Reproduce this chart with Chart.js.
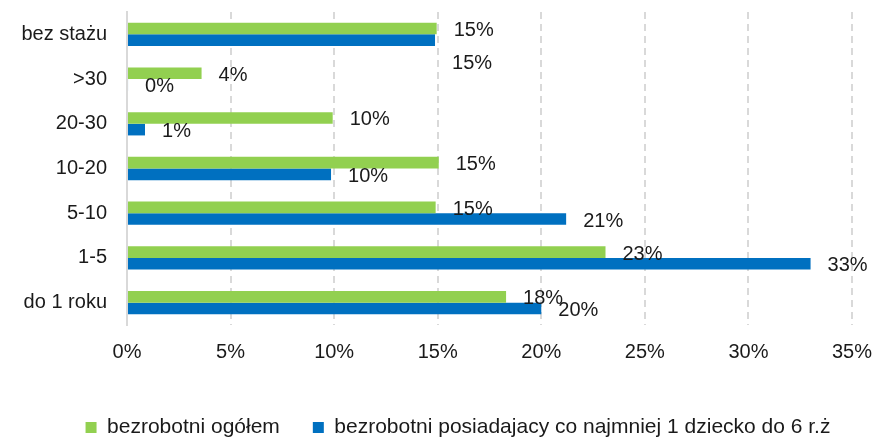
<!DOCTYPE html>
<html>
<head>
<meta charset="utf-8">
<script src="https://cdn.jsdelivr.net/npm/chart.js@4.4.1/dist/chart.umd.min.js"></script>
<style>
  html, body { margin: 0; padding: 0; background: #fff; }
  #wrap { width: 877px; height: 438px; }
</style>
</head>
<body>
<div id="wrap"><canvas id="canvas"></canvas></div>
<script>
// categories, top to bottom
const categories = ["bez stażu", ">30", "20-30", "10-20", "5-10", "1-5", "do 1 roku"]
// series values in percent
const ogolem = [14.95, 3.6, 9.93, 15.05, 14.9, 23.1, 18.3]
const zDzieckiem = [14.87, 0.05, 0.87, 9.85, 21.2, 33.0, 20.0]
// printed labels
const ogolemLabels = ["15%", "4%", "10%", "15%", "15%", "23%", "18%"]
const zDzieckiemLabels = ["15%", "0%", "1%", "10%", "21%", "33%", "20%"]
const xTicks = [0, 5, 10, 15, 20, 25, 30, 35]

const FONT = "'Liberation Sans', Arial, sans-serif"

// draws the value labels to the right of each bar
const barLabels = {
    id: "barLabels",
    afterUpdate(chart, args, opts) {
        // legend sits a bit right of centre in the original
        const lg = chart.legend
        if (lg) {
            lg.left += opts.legendShift[0]
            lg.right += opts.legendShift[0]
            lg.top += opts.legendShift[1]
            lg.bottom += opts.legendShift[1]
        }
    },
    afterDatasetsDraw(chart, args, opts) {
        const ctx = chart.ctx
        ctx.save()
        ctx.font = "20px " + FONT
        ctx.fillStyle = "#1a1a1a"
        ctx.textAlign = "left"
        ctx.textBaseline = "middle"
        chart.data.datasets.forEach((ds, di) => {
            const meta = chart.getDatasetMeta(di)
            meta.data.forEach((bar, i) => {
                // one label sits lower in the original
                const nudge = opts.nudge[di + "-" + i] || 0
                ctx.fillText(ds.labelsText[i], bar.x + 17, bar.y + 2 + nudge)
            })
        })
        ctx.restore()
    }
}

const target = document.querySelector("#canvas")
const myChart = new Chart(target, {
    type: "bar",
    data: {
        labels: categories,
        datasets: [{
            label: "bezrobotni ogółem",
            data: ogolem,
            labelsText: ogolemLabels,
            backgroundColor: "#92D050",
            categoryPercentage: 0.521,
            barPercentage: 1
        }, {
            label: "bezrobotni posiadajacy co najmniej 1 dziecko do 6 r.ż",
            data: zDzieckiem,
            labelsText: zDzieckiemLabels,
            backgroundColor: "#0070C0",
            categoryPercentage: 0.521,
            barPercentage: 1
        }]
    },
    plugins: [barLabels],
    options: {
        indexAxis: "y",
        responsive: true,
        maintainAspectRatio: false,
        animation: false,
        layout: { padding: { left: 0, right: 25, top: 12, bottom: -5 } },
        scales: {
            x: {
                min: 0,
                max: 35,
                afterBuildTicks: (scale) => { scale.ticks = xTicks.map(v => ({ value: v })) },
                afterFit: (scale) => {
                    scale.paddingLeft = 0
                    scale.paddingRight = 0
                },
                ticks: {
                    callback: (v) => v + "%",
                    font: { size: 20, family: FONT },
                    color: "#1a1a1a",
                    padding: 15,
                    maxRotation: 0
                },
                grid: { color: "#d9d9d9", lineWidth: 2, drawTicks: false },
                border: { display: false, dash: [7, 5] }
            },
            y: {
                afterFit: (scale) => {
                    scale.width = 127
                    scale.paddingTop = 0
                    scale.paddingBottom = 0
                },
                ticks: {
                    font: { size: 20, family: FONT },
                    color: "#1a1a1a",
                    padding: 20
                },
                grid: { display: false, drawTicks: false },
                border: { display: true, color: "#d9d9d9", width: 2 }
            }
        },
        plugins: {
            legend: {
                position: "bottom",
                labels: {
                    font: { size: 21, family: FONT },
                    color: "#1a1a1a",
                    boxWidth: 11,
                    boxHeight: 11,
                    padding: 33
                }
            },
            tooltip: { enabled: false },
            barLabels: { nudge: { "1-0": 21 }, legendShift: [32, 5] }
        }
    }
})
</script>
</body>
</html>
